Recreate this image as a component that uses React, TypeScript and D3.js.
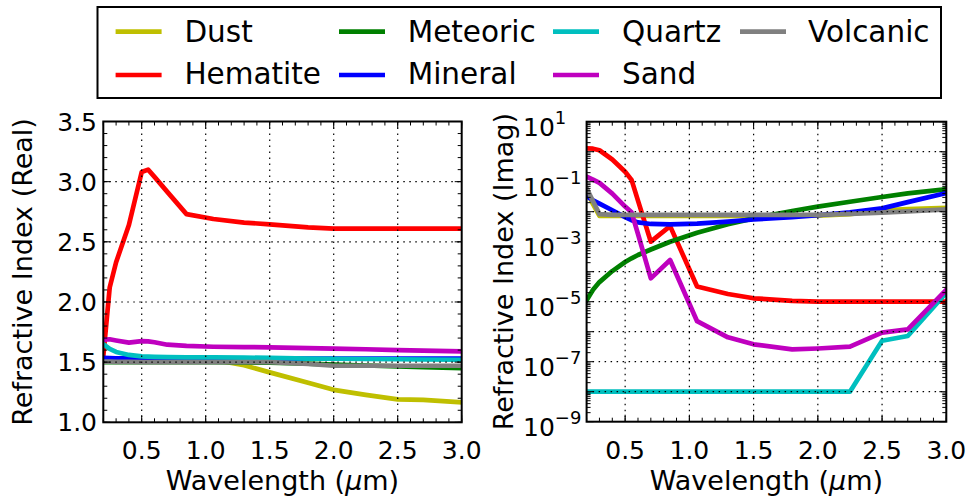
import React from 'react';
import * as d3 from 'd3';

// ---------- DATA ----------
const wavelengths = [0.2, 0.25, 0.3, 0.4, 0.5, 0.55, 0.6, 0.7, 0.85, 1.06, 1.3, 1.5, 1.8, 2.0, 2.25, 2.5, 2.7, 3.0];

const seriesNames = ['Dust', 'Hematite', 'Meteoric', 'Mineral', 'Quartz', 'Sand', 'Volcanic'];
const seriesColors = ['#bfbf00', '#ff0000', '#008000', '#0000ff', '#00bfbf', '#bf00bf', '#808080'];

// real part
const dustReal = [1.53, 1.53, 1.53, 1.53, 1.53, 1.53, 1.53, 1.53, 1.525, 1.52, 1.474, 1.415, 1.328, 1.27, 1.228, 1.19, 1.187, 1.165];
const hematiteReal = [1.55, 2.12, 2.33, 2.64, 3.08, 3.1, 3.04, 2.915, 2.73, 2.69, 2.66, 2.645, 2.62, 2.61, 2.61, 2.61, 2.61, 2.61];
const meteoricReal = [1.5, 1.5, 1.5, 1.5, 1.5, 1.5, 1.5, 1.5, 1.5, 1.5, 1.497, 1.495, 1.487, 1.48, 1.472, 1.465, 1.459, 1.45];
const mineralReal = [1.535, 1.533, 1.532, 1.531, 1.53, 1.53, 1.53, 1.53, 1.53, 1.53, 1.53, 1.53, 1.53, 1.53, 1.53, 1.53, 1.53, 1.53];
const quartzReal = [1.65, 1.61, 1.585, 1.56, 1.548, 1.546, 1.544, 1.542, 1.54, 1.54, 1.538, 1.535, 1.53, 1.528, 1.526, 1.524, 1.522, 1.52];
const sandReal = [1.685, 1.69, 1.68, 1.662, 1.675, 1.672, 1.665, 1.645, 1.635, 1.628, 1.625, 1.623, 1.617, 1.613, 1.607, 1.6, 1.595, 1.59];
const volcanicReal = [1.505, 1.504, 1.503, 1.502, 1.5, 1.5, 1.5, 1.5, 1.5, 1.5, 1.5, 1.5, 1.485, 1.47, 1.47, 1.47, 1.47, 1.47];

// imaginary part
const dustImag = [0.05, 0.0178, 7.2e-3, 7.2e-3, 7.2e-3, 7.2e-3, 7.2e-3, 7.2e-3, 7.2e-3, 7.2e-3, 7.2e-3, 7.2e-3, 7.2e-3, 7.4e-3, 8.3e-3, 0.0112, 0.0123, 0.0135];
const hematiteImag = [1.29, 1.26, 1.12, 0.55, 0.214, 0.115, 0.0234, 1.0e-3, 3.3e-3, 3.2e-5, 1.8e-5, 1.3e-5, 1.07e-5, 1.0e-5, 1.0e-5, 1.0e-5, 1.0e-5, 1.0e-5];
const meteoricImag = [1.12e-5, 2.5e-5, 4.5e-5, 1.05e-4, 2.1e-4, 2.8e-4, 3.6e-4, 5.5e-4, 1.0e-3, 2.0e-3, 3.8e-3, 6.0e-3, 0.0105, 0.0148, 0.0214, 0.0309, 0.0407, 0.0562];
const mineralImag = [0.033, 0.024, 0.0186, 0.0112, 6.6e-3, 5.2e-3, 4.4e-3, 3.9e-3, 3.8e-3, 4.0e-3, 4.7e-3, 5.5e-3, 6.6e-3, 7.6e-3, 9.5e-3, 0.0129, 0.0209, 0.0417];
const quartzImag = [1e-8, 1e-8, 1e-8, 1e-8, 1e-8, 1e-8, 1e-8, 1e-8, 1e-8, 1e-8, 1e-8, 1e-8, 1e-8, 1e-8, 1e-8, 5.0e-7, 7.2e-7, 2.0e-5];
const sandImag = [0.148, 0.117, 0.091, 0.04, 0.0148, 9.5e-3, 1.8e-3, 6.0e-5, 2.45e-4, 2.24e-6, 6.5e-7, 3.8e-7, 2.57e-7, 2.75e-7, 3.16e-7, 9.3e-7, 1.2e-6, 2.5e-5];
const volcanicImag = [0.06, 0.0224, 8.3e-3, 7.8e-3, 7.8e-3, 7.8e-3, 7.8e-3, 7.8e-3, 7.8e-3, 7.8e-3, 7.8e-3, 7.8e-3, 7.8e-3, 7.9e-3, 8.5e-3, 9.3e-3, 0.0102, 0.012];

const realSeries = [dustReal, hematiteReal, meteoricReal, mineralReal, quartzReal, sandReal, volcanicReal];
const imagSeries = [dustImag, hematiteImag, meteoricImag, mineralImag, quartzImag, sandImag, volcanicImag];

const xTicks = [0.5, 1.0, 1.5, 2.0, 2.5, 3.0];
const realTicks = [1.0, 1.5, 2.0, 2.5, 3.0, 3.5];
const imagLabelExps = [1, -1, -3, -5, -7, -9];

// ---------- LAYOUT ----------
const W = 971;
const H = 497;
const FONT = 'DejaVu Sans';
const LEFT = { x0: 103.3, x1: 461.7, y0: 121.5, y1: 422.3 };
const RIGHT = { x0: 586.6, x1: 946.3, y0: 121.7, y1: 421.7 };

const fmt1 = d3.format('.1f');

function App() {
  const xL = d3.scaleLinear().domain([0.2, 3.0]).range([LEFT.x0, LEFT.x1]);
  const yL = d3.scaleLinear().domain([1.0, 3.5]).range([LEFT.y1, LEFT.y0]);
  const xR = d3.scaleLinear().domain([0.2, 3.0]).range([RIGHT.x0, RIGHT.x1]);
  const yR = d3.scaleLog().domain([1e-9, 10]).range([RIGHT.y1, RIGHT.y0]);

  const minorX = d3.range(2, 31).map((i) => i / 10);
  const minorYL = d3.range(10, 36).map((i) => i / 10);
  const majorYR = d3.range(-9, 2).map((e) => Math.pow(10, e));
  const minorYR: number[] = [];
  for (let e = -9; e < 1; e++) for (let m = 2; m <= 9; m++) minorYR.push(m * Math.pow(10, e));

  const lineL = d3.line<number>().x((_, i) => xL(wavelengths[i])).y((d) => yL(d));
  const lineR = d3.line<number>().x((_, i) => xR(wavelengths[i])).y((d) => yR(d));

  const MAJ = 7;
  const MIN = 4;
  const LW = 4.7;

  const gridStyle = { stroke: '#000', strokeWidth: 1.2, strokeDasharray: '1.5,4.5' };

  const renderXTicks = (x: any, box: any) => (
    <g stroke="#000" strokeWidth={1}>
      {minorX.map((v, i) => (
        <g key={'mx' + i}>
          <line x1={x(v)} x2={x(v)} y1={box.y1} y2={box.y1 - MIN} />
          <line x1={x(v)} x2={x(v)} y1={box.y0} y2={box.y0 + MIN} />
        </g>
      ))}
      {xTicks.map((v, i) => (
        <g key={'Mx' + i}>
          <line x1={x(v)} x2={x(v)} y1={box.y1} y2={box.y1 - MAJ} />
          <line x1={x(v)} x2={x(v)} y1={box.y0} y2={box.y0 + MAJ} />
        </g>
      ))}
    </g>
  );

  const renderYTicks = (y: any, box: any, majors: number[], minors: number[]) => (
    <g stroke="#000" strokeWidth={1}>
      {minors.map((v, i) => (
        <g key={'my' + i}>
          <line x1={box.x0} x2={box.x0 + MIN} y1={y(v)} y2={y(v)} />
          <line x1={box.x1} x2={box.x1 - MIN} y1={y(v)} y2={y(v)} />
        </g>
      ))}
      {majors.map((v, i) => (
        <g key={'My' + i}>
          <line x1={box.x0} x2={box.x0 + MAJ} y1={y(v)} y2={y(v)} />
          <line x1={box.x1} x2={box.x1 - MAJ} y1={y(v)} y2={y(v)} />
        </g>
      ))}
    </g>
  );

  const xTickLabels = (x: any, box: any) =>
    xTicks.map((v, i) => (
      <text key={'xl' + i} x={x(v)} y={box.y1 + 37} textAnchor="middle" fontSize={25} fontFamily={FONT} fill="#000">
        {fmt1(v)}
      </text>
    ));

  const legendCols = [115.6, 339, 553, 740];
  const legendTextX = [184.4, 407.7, 622, 808];
  const legendLineY = [31.7, 75];
  const legendTextY = [42, 84];

  return (
    <svg width={W} height={H} style={{ position: 'absolute', left: 0, top: 0, background: '#fff' }} xmlns="http://www.w3.org/2000/svg">
      <defs>
        <clipPath id="clipL">
          <rect x={LEFT.x0} y={LEFT.y0} width={LEFT.x1 - LEFT.x0} height={LEFT.y1 - LEFT.y0} />
        </clipPath>
        <clipPath id="clipR">
          <rect x={RIGHT.x0} y={RIGHT.y0} width={RIGHT.x1 - RIGHT.x0} height={RIGHT.y1 - RIGHT.y0} />
        </clipPath>
      </defs>
      <rect x={0} y={0} width={W} height={H} fill="#fff" />

      {/* LEFT PANEL */}
      <g clipPath="url(#clipL)">
        {realSeries.map((s, k) => (
          <path key={'rl' + k} d={lineL(s) || ''} fill="none" stroke={seriesColors[k]} strokeWidth={LW} strokeLinejoin="round" strokeLinecap="square" />
        ))}
      </g>
      <g>
        {xTicks.slice(0, -1).map((v, i) => (
          <line key={'gxl' + i} x1={xL(v)} x2={xL(v)} y1={LEFT.y0} y2={LEFT.y1} style={gridStyle} />
        ))}
        {realTicks.slice(1, -1).map((v, i) => (
          <line key={'gyl' + i} x1={LEFT.x0} x2={LEFT.x1} y1={yL(v)} y2={yL(v)} style={gridStyle} />
        ))}
      </g>
      {renderXTicks(xL, LEFT)}
      {renderYTicks(yL, LEFT, realTicks, minorYL)}
      <rect x={LEFT.x0} y={LEFT.y0} width={LEFT.x1 - LEFT.x0} height={LEFT.y1 - LEFT.y0} fill="none" stroke="#000" strokeWidth={2} />
      {xTickLabels(xL, LEFT)}
      {realTicks.map((v, i) => (
        <text key={'yl' + i} x={97} y={yL(v) + 9} textAnchor="end" fontSize={25} fontFamily={FONT} fill="#000">
          {fmt1(v)}
        </text>
      ))}
      <text x={(LEFT.x0 + LEFT.x1) / 2} y={490} textAnchor="middle" fontSize={27} fontFamily={FONT} fill="#000">
        Wavelength (<tspan fontStyle="italic">μ</tspan>m)
      </text>
      <text transform={`translate(32,${(LEFT.y0 + LEFT.y1) / 2}) rotate(-90)`} textAnchor="middle" fontSize={27} fontFamily={FONT} fill="#000">
        Refractive Index (Real)
      </text>

      {/* RIGHT PANEL */}
      <g clipPath="url(#clipR)">
        {imagSeries.map((s, k) => (
          <path key={'il' + k} d={lineR(s) || ''} fill="none" stroke={seriesColors[k]} strokeWidth={LW} strokeLinejoin="round" strokeLinecap="square" />
        ))}
      </g>
      <g>
        {xTicks.slice(0, -1).map((v, i) => (
          <line key={'gxr' + i} x1={xR(v)} x2={xR(v)} y1={RIGHT.y0} y2={RIGHT.y1} style={gridStyle} />
        ))}
        {majorYR.slice(1, -1).map((v, i) => (
          <line key={'gyr' + i} x1={RIGHT.x0} x2={RIGHT.x1} y1={yR(v)} y2={yR(v)} style={gridStyle} />
        ))}
      </g>
      {renderXTicks(xR, RIGHT)}
      {renderYTicks(yR, RIGHT, majorYR, minorYR)}
      <rect x={RIGHT.x0} y={RIGHT.y0} width={RIGHT.x1 - RIGHT.x0} height={RIGHT.y1 - RIGHT.y0} fill="none" stroke="#000" strokeWidth={2} />
      {xTickLabels(xR, RIGHT)}
      {imagLabelExps.map((e, i) => (
        <text key={'yr' + i} x={523} y={yR(Math.pow(10, e)) + 14.5} textAnchor="start" fontSize={25} fontFamily={FONT} fill="#000">
          10
          <tspan dy={-12} fontSize={18}>{e < 0 ? '\u2212' + Math.abs(e) : String(e)}</tspan>
        </text>
      ))}
      <text x={(RIGHT.x0 + RIGHT.x1) / 2} y={490} textAnchor="middle" fontSize={27} fontFamily={FONT} fill="#000">
        Wavelength (<tspan fontStyle="italic">μ</tspan>m)
      </text>
      <text transform={`translate(513,${(RIGHT.y0 + RIGHT.y1) / 2}) rotate(-90)`} textAnchor="middle" fontSize={27} fontFamily={FONT} fill="#000">
        Refractive Index (Imag)
      </text>

      {/* LEGEND */}
      <rect x={97.5} y={7} width={843.5} height={91} fill="#fff" stroke="#000" strokeWidth={2} />
      {seriesNames.map((name, k) => {
        const col = Math.floor(k / 2);
        const row = k % 2;
        return (
          <g key={'lg' + k}>
            <line x1={legendCols[col]} x2={legendCols[col] + 46} y1={legendLineY[row]} y2={legendLineY[row]} stroke={seriesColors[k]} strokeWidth={LW} />
            <text x={legendTextX[col]} y={legendTextY[row]} fontSize={29.5} fontFamily={FONT} fill="#000">
              {name}
            </text>
          </g>
        );
      })}
    </svg>
  );
}

export default App;
